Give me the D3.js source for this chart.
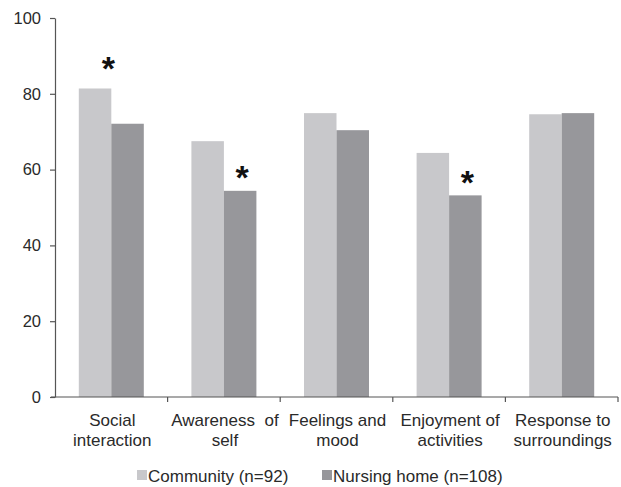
<!DOCTYPE html>
<html>
<head>
<meta charset="utf-8">
<script src="https://cdn.jsdelivr.net/npm/d3@7"></script>
<style>
  html, body { margin: 0; padding: 0; background: #fff; }
  svg { display: block; font-family: "Liberation Sans", Arial, sans-serif; }
</style>
</head>
<body>
<svg id="chart" width="621" height="487"></svg>
<script>
// Domain scores by living setting
const categories = [
  ["Social", "interaction"],
  ["Awareness  of", "self"],
  ["Feelings and", "mood"],
  ["Enjoyment of", "activities"],
  ["Response to", "surroundings"]
];
const community = [81.4, 67.5, 74.9, 64.4, 74.6];
const nursingHome = [72.1, 54.4, 70.4, 53.2, 74.9];
const seriesNames = ["Community (n=92)", "Nursing home (n=108)"];
const yTicks = [0, 20, 40, 60, 80, 100];
// Significant differences: category index and which bar the marker sits over
const significant = [
  { cat: 0, over: "between" },
  { cat: 1, over: "nursing" },
  { cat: 3, over: "nursing" }
];

const colors = ["#c8c8cb", "#97979b"];
const axisColor = "#555";
const textColor = "#2a2a2a";

const svg = d3.select("#chart");
const plotLeft = 55, plotRight = 618, plotTop = 18, plotBottom = 397;

const x = d3.scaleBand()
  .domain(d3.range(categories.length))
  .range([plotLeft, plotRight])
  .paddingInner(0)
  .paddingOuter(0);

const y = d3.scaleLinear().domain([0, 100]).range([plotBottom, plotTop]);

const barW = 32.5;
const groupOffset = (x.bandwidth() - 2 * barW) / 2;

// Bars
const series = [community, nursingHome];
series.forEach((vals, si) => {
  svg.append("g").selectAll("rect")
    .data(vals)
    .join("rect")
    .attr("x", (d, i) => x(i) + groupOffset + si * barW)
    .attr("y", d => y(d))
    .attr("width", barW)
    .attr("height", d => y(0) - y(d))
    .attr("fill", colors[si]);
});

// Y axis
const yAxis = svg.append("g")
  .attr("transform", `translate(${plotLeft},0)`)
  .call(d3.axisLeft(y).tickValues(yTicks).tickSize(5).tickPadding(9).tickSizeOuter(0));
yAxis.select(".domain").attr("stroke", axisColor).attr("stroke-width", 1.2);
yAxis.selectAll(".tick line").attr("stroke", axisColor).attr("stroke-width", 1.2);
yAxis.selectAll(".tick text")
  .attr("font-size", 16.5)
  .attr("fill", textColor)
  .attr("font-family", "Liberation Sans, Arial, sans-serif");

// X axis: boundary ticks between categories
const xAxisG = svg.append("g");
xAxisG.append("line")
  .attr("x1", plotLeft - 4).attr("x2", plotRight)
  .attr("y1", plotBottom).attr("y2", plotBottom)
  .attr("stroke", axisColor).attr("stroke-width", 1.2);
xAxisG.selectAll("line.sep")
  .data(d3.range(1, categories.length + 1))
  .join("line")
  .attr("class", "sep")
  .attr("x1", i => x(i - 1) + x.bandwidth())
  .attr("x2", i => x(i - 1) + x.bandwidth())
  .attr("y1", plotBottom).attr("y2", plotBottom + 5)
  .attr("stroke", axisColor).attr("stroke-width", 1.2);

// Category labels (two lines)
const labels = svg.append("g").selectAll("text")
  .data(categories)
  .join("text")
  .attr("text-anchor", "middle")
  .attr("font-size", 17)
  .attr("fill", textColor)
  .attr("transform", (d, i) => `translate(${x(i) + x.bandwidth() / 2 + 1},0)`);
labels.each(function(lines) {
  const t = d3.select(this);
  lines.forEach((ln, k) => {
    t.append("tspan")
      .attr("x", 0)
      .attr("y", 426 + k * 20)
      .style("white-space", "pre")
      .text(ln);
  });
});

// Significance markers, centred above the relevant bar
const stars = svg.append("g").selectAll("text")
  .data(significant)
  .join("text")
  .attr("text-anchor", "middle")
  .attr("font-size", 34)
  .attr("font-weight", "bold")
  .attr("fill", "#111")
  .attr("x", d => {
    const gx = x(d.cat) + groupOffset;
    return d.over === "nursing" ? gx + barW * 1.5 + 2 : gx + barW - 3;
  })
  .attr("y", 0)
  .text("*");
stars.each(function(d) {
  const bb = this.getBBox();
  const topV = d.over === "nursing" ? nursingHome[d.cat] : Math.max(community[d.cat], nursingHome[d.cat]);
  const centre = y(topV) - (d.over === "nursing" ? 21 : 28);
  // glyph ink sits in the upper part of the text box
  const inkCentre = bb.y + bb.height * 0.3;
  d3.select(this).attr("y", centre - inkCentre);
});

// Legend
const legend = svg.append("g");
const legendX = [137, 322];
seriesNames.forEach((name, i) => {
  legend.append("rect")
    .attr("x", legendX[i]).attr("y", 470)
    .attr("width", 10).attr("height", 10)
    .attr("fill", colors[i]);
  legend.append("text")
    .attr("x", legendX[i] + 11).attr("y", 482)
    .attr("font-size", 17)
    .attr("fill", textColor)
    .text(name);
});
</script>
</body>
</html>
